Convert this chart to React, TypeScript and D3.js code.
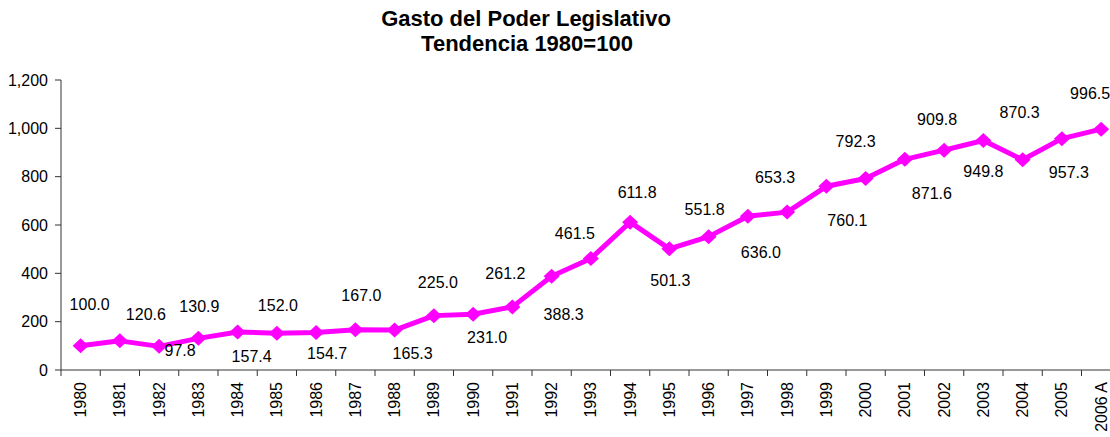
import React from "react";
import * as d3 from "d3";

const years = [
  "1980", "1981", "1982", "1983", "1984", "1985", "1986", "1987", "1988",
  "1989", "1990", "1991", "1992", "1993", "1994", "1995", "1996", "1997",
  "1998", "1999", "2000", "2001", "2002", "2003", "2004", "2005", "2006 A",
];

const values = [
  100.0, 120.6, 97.8, 130.9, 157.4, 152.0, 154.7, 167.0, 165.3,
  225.0, 231.0, 261.2, 388.3, 461.5, 611.8, 501.3, 551.8, 636.0,
  653.3, 760.1, 792.3, 871.6, 909.8, 949.8, 870.3, 957.3, 996.5,
];

const yTicks = [0, 200, 400, 600, 800, 1000, 1200];

// label nudges (dx, dy from the point) as placed by hand in the original
const labelNudge = [
  [9, -41], [26, -26], [21, 4], [1, -32], [14, 24], [1, -28], [11, 21],
  [6, -34], [18, 23], [4, -33], [14, 23], [-7, -33], [12, 38], [-16, -25],
  [7, -30], [1, 32], [-4, -27], [13, 36], [-12, -35], [21, 34], [-10, -37],
  [27, 34], [-7, -31], [0, 31], [-3, -47], [7, 34], [-11, -36],
];

const width = 1110;
const height = 437;
const margin = { left: 61, top: 80, bottom: 370 };
const step = 39.25;

const font = "'Liberation Sans', Arial, sans-serif";

const App = () => {
  const x = d3
    .scaleBand()
    .domain(years)
    .range([margin.left, margin.left + years.length * step])
    .padding(0);

  const y = d3.scaleLinear().domain([0, 1200]).range([margin.bottom, margin.top]);

  const cx = (d) => x(d) + x.bandwidth() / 2;

  const line = d3
    .line()
    .x((d, i) => cx(years[i]))
    .y((d) => y(d));

  const fmt = d3.format(",");
  // slightly wide diamond marker, like the Excel one
  const diamond = "M0,-7.5L8,0L0,7.5L-8,0Z";

  return (
    <svg
      width={width}
      height={height}
      style={{ position: "absolute", left: 0, top: 0, fontFamily: font }}
    >
      <rect width={width} height={height} fill="white" />

      {/* title */}
      <text x={526} y={26} textAnchor="middle" fontSize={22} fontWeight="bold">
        Gasto del Poder Legislativo
      </text>
      <text x={527} y={51} textAnchor="middle" fontSize={22} fontWeight="bold">
        Tendencia 1980=100
      </text>

      {/* y axis */}
      <line x1={margin.left} x2={margin.left} y1={y(1200)} y2={y(0)} stroke="#333" />
      {yTicks.map((t) => (
        <g key={t}>
          <line x1={margin.left - 6} x2={margin.left} y1={y(t)} y2={y(t)} stroke="#333" />
          <text x={48} y={y(t)} dy="0.35em" textAnchor="end" fontSize={16}>
            {fmt(t)}
          </text>
        </g>
      ))}

      {/* x axis */}
      <line x1={margin.left} x2={width} y1={y(0)} y2={y(0)} stroke="#333" />
      {years.map((yr) => (
        <g key={yr}>
          <line x1={x(yr)} x2={x(yr)} y1={y(0)} y2={y(0) + 6} stroke="#333" />
          <text
            transform={`translate(${cx(yr)},${y(0) + 12}) rotate(-90)`}
            dy="0.35em"
            textAnchor="end"
            fontSize={16}
          >
            {yr}
          </text>
        </g>
      ))}

      {/* series */}
      <path d={line(values)} fill="none" stroke="#FF00FF" strokeWidth={5} strokeLinejoin="round" />
      {values.map((v, i) => (
        <path
          key={i}
          d={diamond}
          transform={`translate(${cx(years[i])},${y(v)})`}
          fill="#FF00FF"
        />
      ))}

      {/* data labels */}
      {values.map((v, i) => (
        <text
          key={i}
          x={cx(years[i]) + labelNudge[i][0]}
          y={y(v) + labelNudge[i][1]}
          dy="0.35em"
          textAnchor="middle"
          fontSize={16}
        >
          {v.toFixed(1)}
        </text>
      ))}
    </svg>
  );
};

export default App;
